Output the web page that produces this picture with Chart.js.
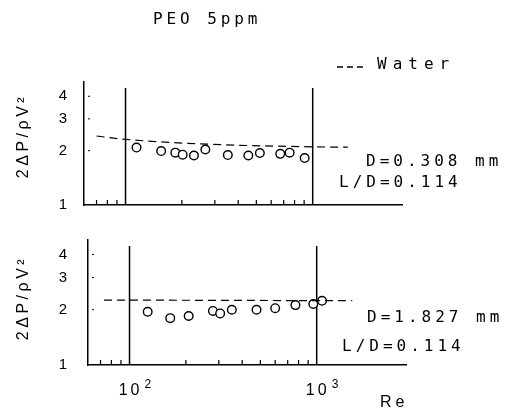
<!DOCTYPE html>
<html>
<head>
<meta charset="utf-8">
<script src="https://cdn.jsdelivr.net/npm/chart.js@4.4.0/dist/chart.umd.min.js"></script>
<style>
    body { margin: 0; background: #fff; }
    #arriba { position: absolute; left: 0; top: 0; }
    #abajo { position: absolute; left: 0; top: 220px; }
</style>
</head>
<body>
<canvas id="arriba" width="513" height="220"></canvas>
<canvas id="abajo" width="513" height="190"></canvas>
<script>
// datos
const reArriba = [114.5, 155, 184.5, 202, 232, 267, 352, 453, 522, 671, 753, 906];
const cfArriba = [2.08, 1.99, 1.95, 1.90, 1.88, 2.03, 1.89, 1.88, 1.94, 1.92, 1.95, 1.82];
const reAgua1 = [70, 100, 280, 1000, 1540];
const cfAgua1 = [2.41, 2.31, 2.17, 2.10, 2.09];

const reAbajo = [125, 165, 207, 279, 305, 352, 477, 600, 770, 959, 1068];
const cfAbajo = [1.95, 1.80, 1.85, 1.97, 1.91, 2.00, 2.00, 2.04, 2.12, 2.15, 2.24];
const reAgua2 = [73, 1550];
const cfAgua2 = [2.26, 2.24];

const yTicks = [1, 2, 3, 4];
const yMarcas = [2, 3, 4];
const xMarcas = [70, 80, 90, 200, 300, 400, 500, 600, 700, 800, 900];
const xDecadas = [100, 1000];
const xExponentes = ['2', '3'];

const MONO = '16px "DejaVu Sans Mono"';
const SANS = '16px "Liberation Sans"';

function puntos(xs, ys) {
    return xs.map((x, i) => ({ x: x, y: ys[i] }));
}

function texto(ctx, str, x, y, font, espacio, align) {
    ctx.save();
    ctx.font = font;
    ctx.letterSpacing = espacio + 'px';
    ctx.textAlign = align || 'left';
    ctx.textBaseline = 'middle';
    ctx.fillStyle = '#000';
    ctx.fillText(str, x, y);
    ctx.restore();
}

function decoracion(panel) {
    return {
        id: 'decoracion',
        beforeDatasetsDraw(chart) {
            const ctx = chart.ctx;
            const xs = chart.scales.x;
            const ys = chart.scales.y;
            const area = chart.chartArea;
            ctx.save();
            ctx.strokeStyle = '#000';
            // lineas largas en 10^2 y 10^3
            ctx.lineWidth = 1.5;
            xDecadas.forEach(v => {
                const px = xs.getPixelForValue(v);
                ctx.beginPath();
                ctx.moveTo(px, ys.getPixelForValue(4.45));
                ctx.lineTo(px, area.bottom);
                ctx.stroke();
            });
            // marcas menores del eje x (hacia adentro)
            ctx.lineWidth = 1.2;
            xMarcas.forEach(v => {
                const px = xs.getPixelForValue(v);
                ctx.beginPath();
                ctx.moveTo(px, area.bottom);
                ctx.lineTo(px, area.bottom - 5);
                ctx.stroke();
            });
            // puntitos del eje y
            ctx.lineWidth = 1;
            yMarcas.forEach(v => {
                const py = ys.getPixelForValue(v);
                ctx.beginPath();
                ctx.moveTo(area.left + 4, py);
                ctx.lineTo(area.left + 6, py);
                ctx.stroke();
            });
            ctx.restore();
        },
        afterDraw(chart) {
            const ctx = chart.ctx;
            // titulo del eje y, rotado
            ctx.save();
            ctx.translate(24, panel.yTitulo);
            ctx.rotate(-Math.PI / 2);
            texto(ctx, '2ΔP/ρV²', 0, 0, SANS, 3.5, 'center');
            ctx.restore();

            panel.textos.forEach(t => {
                texto(ctx, t[0], t[1], t[2], MONO, 4);
            });

            if (panel.leyenda) {
                ctx.save();
                ctx.strokeStyle = '#000';
                ctx.lineWidth = 1.3;
                ctx.setLineDash([6, 4]);
                ctx.beginPath();
                ctx.moveTo(337, 67);
                ctx.lineTo(365, 67);
                ctx.stroke();
                ctx.restore();
                texto(ctx, 'Water', 377, 65, MONO, 6);
                texto(ctx, 'PEO 5ppm', 153, 20, MONO, 3.9);
            }

            if (panel.ejeX) {
                const xs = chart.scales.x;
                xDecadas.forEach((v, i) => {
                    const px = xs.getPixelForValue(v);
                    texto(ctx, '10', px + 1, 171, SANS, 3, 'center');
                    texto(ctx, xExponentes[i], px + 15, 165, '12px "Liberation Sans"', 0);
                });
                texto(ctx, 'Re', 380, 183, SANS, 4);
            }
        }
    };
}

function crearPanel(id, padding, anchoY, circulos, agua, panel) {
    const ctx = document.getElementById(id).getContext('2d');
    return new Chart(ctx, {
        type: 'scatter',
        data: {
            datasets: [
                {
                    label: 'Water',
                    data: agua,
                    showLine: true,
                    borderColor: '#000',
                    borderWidth: 1.2,
                    borderDash: [8, 5],
                    pointRadius: 0,
                    cubicInterpolationMode: 'monotone'
                },
                {
                    label: 'PEO 5ppm',
                    data: circulos,
                    borderColor: '#000',
                    backgroundColor: '#fff',
                    borderWidth: 1.4,
                    pointRadius: 4.3
                }
            ]
        },
        options: {
            responsive: false,
            animation: false,
            layout: { padding: padding },
            plugins: {
                legend: { display: false },
                tooltip: { enabled: false }
            },
            scales: {
                x: {
                    type: 'logarithmic',
                    min: 60,
                    max: 3000,
                    grid: { display: false, drawTicks: false },
                    border: { display: true, color: '#000', width: 1.5 },
                    ticks: { display: false },
                    afterFit: s => {
                        s.height = 0;
                        s.paddingLeft = 0;
                        s.paddingRight = 0;
                    }
                },
                y: {
                    type: 'logarithmic',
                    min: 1,
                    max: 4.8,
                    grid: { display: false, drawTicks: false },
                    border: { display: true, color: '#000', width: 1.5 },
                    afterBuildTicks: s => { s.ticks = yTicks.map(v => ({ value: v })); },
                    ticks: {
                        color: '#000',
                        padding: panel.padTicks,
                        font: { family: 'Liberation Sans', size: 15 },
                        callback: v => String(v)
                    },
                    afterFit: s => {
                        s.width = anchoY;
                        s.paddingTop = 0;
                        s.paddingBottom = 0;
                    }
                }
            }
        },
        plugins: [decoracion(panel)]
    });
}

crearPanel('arriba', { left: 0, right: 111, top: 82, bottom: 15 }, 84,
    puntos(reArriba, cfArriba), puntos(reAgua1, cfAgua1), {
        yTitulo: 136,
        padTicks: 17,
        leyenda: true,
        ejeX: false,
        textos: [['D=0.308 mm', 366, 162], ['L/D=0.114', 339, 183]]
    });

crearPanel('abajo', { left: 0, right: 107, top: 20, bottom: 45 }, 88,
    puntos(reAbajo, cfAbajo), puntos(reAgua2, cfAgua2), {
        yTitulo: 78,
        padTicks: 21,
        leyenda: false,
        ejeX: true,
        textos: [['D=1.827 mm', 367, 98], ['L/D=0.114', 342, 127]]
    });
</script>
</body>
</html>
